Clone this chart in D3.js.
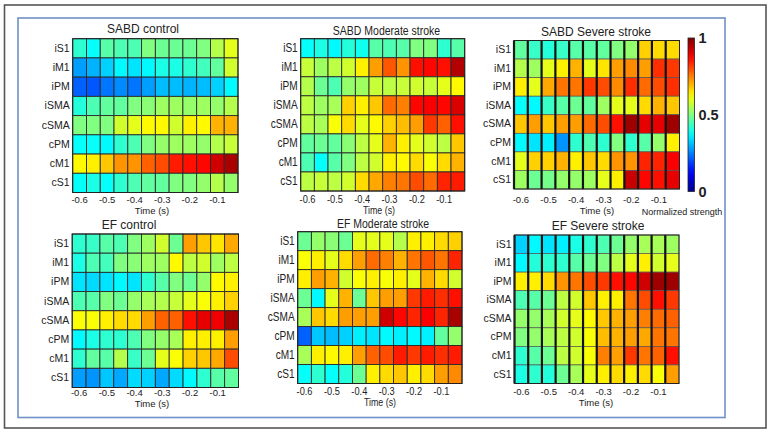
<!DOCTYPE html>
<html>
<head>
<meta charset="utf-8">
<script src="https://cdn.jsdelivr.net/npm/d3@7"></script>
<style>
  html, body { margin: 0; padding: 0; background: #fff; }
  svg { display: block; }
  text { font-family: "Liberation Sans", Arial, sans-serif; fill: #222; }
</style>
</head>
<body>
<svg id="chart" width="771" height="435"></svg>
<script>
// ---------------- DATA ----------------
const regions = ["iS1", "iM1", "iPM", "iSMA", "cSMA", "cPM", "cM1", "cS1"];
const times = [-0.6, -0.55, -0.5, -0.45, -0.4, -0.35, -0.3, -0.25, -0.2, -0.15, -0.1, -0.05];
const tickTimes = [-0.6, -0.5, -0.4, -0.3, -0.2, -0.1];
const tickLabels = ["-0.6", "-0.5", "-0.4", "-0.3", "-0.2", "-0.1"];
const colorbarTicks = [0, 0.5, 1];
const colorbarLabels = ["0", "0.5", "1"];
const panelTitles = ["SABD control", "SABD Moderate stroke", "SABD Severe stroke",
                     "EF control", "EF Moderate stroke", "EF Severe stroke"];

const sabdControl = [
  [0.42,0.38,0.46,0.45,0.45,0.50,0.48,0.48,0.48,0.50,0.55,0.60],
  [0.28,0.30,0.33,0.37,0.35,0.37,0.40,0.40,0.42,0.44,0.47,0.58],
  [0.22,0.21,0.24,0.26,0.24,0.28,0.31,0.31,0.30,0.31,0.33,0.37],
  [0.41,0.45,0.47,0.47,0.50,0.51,0.53,0.53,0.52,0.53,0.52,0.55],
  [0.50,0.50,0.50,0.58,0.60,0.63,0.63,0.58,0.64,0.63,0.70,0.70],
  [0.38,0.38,0.37,0.42,0.45,0.50,0.52,0.53,0.53,0.52,0.55,0.57],
  [0.63,0.64,0.68,0.73,0.73,0.78,0.80,0.85,0.86,0.87,0.92,0.96],
  [0.38,0.40,0.38,0.42,0.45,0.47,0.47,0.50,0.50,0.52,0.55,0.52]
];
const sabdModerate = [
  [0.38,0.40,0.37,0.41,0.39,0.46,0.45,0.46,0.50,0.50,0.42,0.46],
  [0.57,0.53,0.56,0.58,0.64,0.72,0.79,0.73,0.86,0.87,0.86,0.95],
  [0.55,0.48,0.45,0.52,0.53,0.57,0.56,0.57,0.58,0.57,0.60,0.63],
  [0.56,0.53,0.54,0.67,0.64,0.68,0.77,0.75,0.87,0.88,0.87,0.91],
  [0.56,0.54,0.62,0.66,0.60,0.63,0.67,0.69,0.72,0.82,0.78,0.86],
  [0.47,0.48,0.47,0.51,0.56,0.60,0.70,0.64,0.60,0.58,0.56,0.68],
  [0.45,0.38,0.46,0.50,0.56,0.58,0.64,0.63,0.66,0.62,0.66,0.70],
  [0.56,0.57,0.56,0.58,0.66,0.71,0.75,0.76,0.80,0.77,0.84,0.85]
];
const sabdSevere = [
  [0.47,0.43,0.41,0.43,0.46,0.46,0.47,0.50,0.52,0.67,0.66,0.66],
  [0.55,0.53,0.60,0.64,0.70,0.60,0.65,0.72,0.74,0.72,0.83,0.82],
  [0.64,0.60,0.71,0.76,0.76,0.82,0.80,0.74,0.83,0.77,0.80,0.83],
  [0.38,0.37,0.43,0.46,0.48,0.47,0.53,0.60,0.60,0.66,0.70,0.68],
  [0.68,0.72,0.68,0.72,0.72,0.77,0.80,0.86,0.97,0.90,0.90,0.97],
  [0.37,0.35,0.36,0.27,0.42,0.45,0.42,0.50,0.42,0.46,0.52,0.64],
  [0.60,0.67,0.67,0.70,0.64,0.68,0.66,0.73,0.73,0.84,0.84,0.88],
  [0.53,0.48,0.49,0.52,0.52,0.53,0.60,0.64,0.93,0.87,0.86,0.90]
];
const efControl = [
  [0.42,0.43,0.46,0.45,0.50,0.53,0.58,0.48,0.72,0.68,0.65,0.71],
  [0.40,0.45,0.44,0.50,0.51,0.53,0.53,0.63,0.56,0.58,0.53,0.56],
  [0.35,0.34,0.35,0.37,0.35,0.42,0.46,0.50,0.48,0.52,0.63,0.64],
  [0.45,0.46,0.50,0.48,0.52,0.54,0.55,0.57,0.60,0.62,0.64,0.67],
  [0.62,0.62,0.64,0.66,0.66,0.72,0.78,0.78,0.86,0.90,0.89,0.96],
  [0.37,0.40,0.42,0.42,0.45,0.50,0.52,0.54,0.64,0.64,0.64,0.72],
  [0.42,0.47,0.46,0.55,0.43,0.48,0.60,0.62,0.67,0.68,0.71,0.80],
  [0.28,0.27,0.32,0.29,0.34,0.33,0.29,0.34,0.37,0.42,0.46,0.47]
];
const efModerate = [
  [0.48,0.52,0.51,0.48,0.60,0.60,0.60,0.55,0.64,0.64,0.66,0.67],
  [0.62,0.64,0.60,0.66,0.72,0.77,0.75,0.70,0.76,0.79,0.76,0.84],
  [0.64,0.72,0.70,0.58,0.62,0.64,0.62,0.64,0.60,0.70,0.66,0.58],
  [0.48,0.37,0.60,0.70,0.48,0.68,0.72,0.72,0.82,0.85,0.83,0.86],
  [0.54,0.68,0.66,0.72,0.72,0.72,0.92,0.87,0.84,0.88,0.84,0.96],
  [0.22,0.32,0.31,0.33,0.36,0.35,0.37,0.36,0.37,0.36,0.47,0.52],
  [0.54,0.64,0.63,0.64,0.72,0.78,0.80,0.85,0.82,0.85,0.83,0.85],
  [0.38,0.42,0.38,0.41,0.48,0.64,0.66,0.68,0.64,0.66,0.72,0.74]
];
const efSevere = [
  [0.33,0.37,0.35,0.36,0.40,0.42,0.45,0.48,0.52,0.54,0.54,0.53],
  [0.37,0.41,0.42,0.42,0.46,0.48,0.50,0.56,0.60,0.64,0.58,0.60],
  [0.64,0.64,0.66,0.73,0.76,0.80,0.82,0.86,0.87,0.92,0.97,0.97],
  [0.45,0.46,0.48,0.56,0.58,0.68,0.64,0.64,0.76,0.80,0.86,0.82],
  [0.52,0.52,0.54,0.58,0.60,0.63,0.68,0.70,0.72,0.75,0.77,0.78],
  [0.50,0.52,0.54,0.56,0.58,0.62,0.69,0.70,0.72,0.71,0.76,0.76],
  [0.42,0.46,0.48,0.56,0.58,0.62,0.75,0.72,0.82,0.76,0.78,0.86],
  [0.40,0.42,0.41,0.48,0.54,0.60,0.64,0.66,0.64,0.66,0.62,0.72]
];
const panelValues = [sabdControl, sabdModerate, sabdSevere, efControl, efModerate, efSevere];

// ---------------- LAYOUT ----------------
const panels = [
  { x0: 72.7, x1: 238,   y0: 38.7,  y1: 192.5, tx: 143,   ty: 33,  tickY: 203, timeY: 214, timeX: 152, narrow: false, thick: false },
  { x0: 300.7, x1: 464.7, y0: 38.7, y1: 191,   tx: 386.5, ty: 35,  tickY: 203, timeY: 214, timeX: 379, narrow: true,  thick: false },
  { x0: 514,  x1: 679.5, y0: 40.5,  y1: 189,   tx: 596,   ty: 36,  tickY: 203, timeY: 214, timeX: 597, narrow: false, thick: true },
  { x0: 72.2, x1: 238.5, y0: 234,   y1: 387.5, tx: 129,   ty: 229, tickY: 396, timeY: 407, timeX: 152, narrow: false, thick: false },
  { x0: 297.7, x1: 462,  y0: 231.7, y1: 383.5, tx: 383,   ty: 228, tickY: 395, timeY: 406, timeX: 380, narrow: true,  thick: false },
  { x0: 514.5, x1: 679,  y0: 235,   y1: 383.5, tx: 598,   ty: 230, tickY: 395, timeY: 406, timeX: 596, narrow: false, thick: true }
];

const jet = d3.scaleLinear()
  .domain([0, 0.125, 0.375, 0.625, 0.875, 1])
  .range(["#000090", "#0000ff", "#00ffff", "#ffff00", "#ff0000", "#800000"])
  .clamp(true);

const svg = d3.select("#chart");

// condense text horizontally (narrow look of the moderate panels)
function condense(sel, k) {
  sel.each(function () {
    const len = this.getComputedTextLength();
    d3.select(this).attr("textLength", len * k).attr("lengthAdjust", "spacingAndGlyphs");
  });
}

// outer frame
svg.append("rect").attr("x", 4.5).attr("y", 5).attr("width", 761.5).attr("height", 423)
  .attr("fill", "none").attr("stroke", "#555").attr("stroke-width", 1.6);
// inner blue frame
svg.append("rect").attr("x", 18).attr("y", 18).attr("width", 707).attr("height", 399.5)
  .attr("fill", "none").attr("stroke", "#6f90c6").attr("stroke-width", 1.6);

panels.forEach((p, i) => {
  const vals = panelValues[i];
  const x = d3.scaleBand().domain(times).range([p.x0, p.x1]).padding(0);
  const y = d3.scaleBand().domain(regions).range([p.y0, p.y1]).padding(0);
  const g = svg.append("g");

  const cells = [];
  vals.forEach((row, ri) => row.forEach((v, ci) => cells.push({ r: regions[ri], t: times[ci], v })));
  g.selectAll("rect.cell").data(cells).join("rect")
    .attr("class", "cell")
    .attr("x", d => x(d.t)).attr("y", d => y(d.r))
    .attr("width", x.bandwidth()).attr("height", y.bandwidth())
    .attr("fill", d => jet(d.v))
    .attr("stroke", p.thick ? "#555" : "#2a2a2a")
    .attr("stroke-width", p.thick ? 0.7 : 0.9);

  if (p.thick) {
    g.selectAll("line.vsep").data(times).join("line")
      .attr("class", "vsep")
      .attr("x1", d => x(d)).attr("x2", d => x(d))
      .attr("y1", p.y0).attr("y2", p.y1)
      .attr("stroke", "#111").attr("stroke-width", 2.2);
  }
  g.append("rect").attr("x", p.x0).attr("y", p.y0)
    .attr("width", p.x1 - p.x0).attr("height", p.y1 - p.y0)
    .attr("fill", "none").attr("stroke", "#222").attr("stroke-width", 1);

  const k = p.narrow ? 0.84 : 1;

  // title
  const title = svg.append("text").attr("x", p.tx).attr("y", p.ty)
    .attr("text-anchor", "middle")
    .style("font-size", p.narrow ? "12.5px" : "12px").text(panelTitles[i]);
  if (p.narrow) condense(title, k);

  // y axis labels
  const yAxis = d3.axisLeft(y).tickSize(0).tickPadding(3);
  const ya = svg.append("g").attr("transform", `translate(${p.x0},0)`).call(yAxis);
  ya.select(".domain").remove();
  ya.selectAll("text").style("font-family", null).style("font-size", p.narrow ? "12px" : "10.5px").attr("fill", "#222");
  ya.attr("font-family", null);
  if (p.narrow) condense(ya.selectAll("text"), k);

  // x axis labels
  const xAxis = d3.axisBottom(x).tickValues(tickTimes).tickSize(0)
    .tickFormat(d => tickLabels[tickTimes.indexOf(d)]);
  const xa = svg.append("g").attr("transform", `translate(0,${p.tickY - 8})`).call(xAxis);
  xa.select(".domain").remove();
  xa.attr("font-family", null);
  xa.selectAll("text").attr("dy", 0).attr("y", 8)
    .style("font-size", p.narrow ? "11px" : "9.5px").attr("fill", "#222");
  if (p.narrow) condense(xa.selectAll("text"), k);

  const tl = svg.append("text").attr("x", p.timeX).attr("y", p.timeY)
    .attr("text-anchor", "middle")
    .style("font-size", p.narrow ? "10.5px" : "9.5px").text("Time (s)");
  if (p.narrow) condense(tl, k);
});

// colorbar
const cb = { x: 688, w: 6.5, y0: 38, y1: 191.5 };
const defs = svg.append("defs");
const grad = defs.append("linearGradient").attr("id", "jetgrad")
  .attr("x1", "0").attr("y1", "1").attr("x2", "0").attr("y2", "0");
d3.range(0, 1.0001, 0.05).forEach(t => {
  grad.append("stop").attr("offset", t).attr("stop-color", jet(t));
});
svg.append("rect").attr("x", cb.x).attr("y", cb.y0).attr("width", cb.w).attr("height", cb.y1 - cb.y0)
  .attr("fill", "url(#jetgrad)").attr("stroke", "#222").attr("stroke-width", 0.8);
const cbScale = d3.scaleLinear().domain([0, 1]).range([cb.y1, cb.y0]);
const cbAxis = d3.axisRight(cbScale).tickValues(colorbarTicks).tickSize(0).tickPadding(4)
  .tickFormat(d => colorbarLabels[colorbarTicks.indexOf(d)]);
const cba = svg.append("g").attr("transform", `translate(${cb.x + cb.w},0)`).call(cbAxis);
cba.select(".domain").remove();
cba.attr("font-family", null);
cba.selectAll("text").style("font-size", "14.5px").style("font-weight", "bold").attr("fill", "#111");

svg.append("text").attr("x", 682).attr("y", 214.5).attr("text-anchor", "middle")
  .style("font-size", "9px").text("Normalized strength");
</script>
</body>
</html>
